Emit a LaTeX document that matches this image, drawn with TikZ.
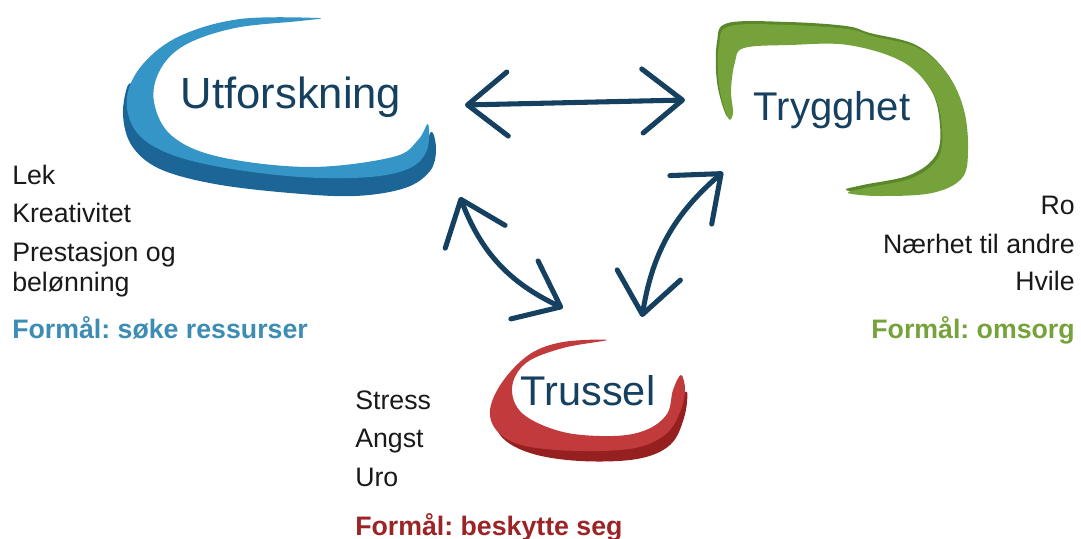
\documentclass[tikz,border=0pt]{standalone}
\usepackage{fontspec}
\setmainfont{Liberation Sans}
\usetikzlibrary{arrows.meta}
\definecolor{navy}{HTML}{15405F}
\definecolor{blueL}{HTML}{3595C6}
\definecolor{blueD}{HTML}{1B6597}
\definecolor{greenL}{HTML}{76A23B}
\definecolor{greenD}{HTML}{5A8729}
\definecolor{redL}{HTML}{C13A3C}
\definecolor{redD}{HTML}{962020}
\definecolor{blueT}{HTML}{3D8CB3}
\definecolor{greenT}{HTML}{76A23B}
\definecolor{redT}{HTML}{9C2426}
\frenchspacing

\begin{document}
\begin{tikzpicture}[x=0.025cm,y=-0.025cm,
  >={Straight Barb[length=1cm,width=1.6cm,round]},
  link/.style={<->,navy,line width=3.6pt,line cap=round},
  title/.style={navy,anchor=base,inner sep=0pt},
  item/.style={font=\fontsize{19}{22}\selectfont,text=black!90,inner sep=0pt},
  goal/.style={item,font=\fontsize{19}{22}\selectfont\bfseries}]
  \useasboundingbox (0,0) rectangle (1081,539);

  % blue blob
  \fill[blueD] plot[smooth cycle,tension=0.6] coordinates {(128,85) (123,115) (132,146) (160,169) (215,184) (290,193) (355,196) (405,188) (430,171) (436,150) (431,132) (418,158) (370,172) (300,174) (220,164) (165,148) (142,120) (136,90)};
  \fill[blueL] plot[smooth cycle,tension=0.6] coordinates {(318,18) (240,19) (180,36) (143,64) (127,97) (135,130) (165,152) (220,167) (300,177) (370,177) (410,168) (427,150) (428,124) (418,140) (393,157) (310,167) (220,157) (172,136) (154,102) (160,70) (185,45) (235,28) (300,21)};

  % green blob
  \fill[greenD,shift={(-2,-3)}] plot[smooth cycle,tension=0.6] coordinates {(728,118) (719,85) (719,45) (730,26) (790,25) (848,29) (872,36) (918,48) (948,75) (964,110) (968,150) (962,178) (932,193) (880,196) (848,193) (865,188) (912,178) (938,158) (942,128) (933,93) (903,62) (848,45) (790,45) (744,48) (735,62) (731,90) (733,113)};
  \fill[greenL] plot[smooth cycle,tension=0.6] coordinates {(728,118) (719,85) (719,45) (730,26) (790,25) (848,29) (872,36) (918,48) (948,75) (964,110) (968,150) (962,178) (932,193) (880,196) (848,193) (865,188) (912,178) (938,158) (942,128) (933,93) (903,62) (848,45) (790,45) (744,48) (735,62) (731,90) (733,113)};

  % red blob
  \fill[redD] plot[smooth cycle,tension=0.6] coordinates {(493,405) (500,435) (530,453) (580,461) (637,459) (670,445) (684,418) (687,392) (678,402) (666,428) (630,443) (570,443) (520,428) (500,405)};
  \fill[redL] plot[smooth cycle,tension=0.6] coordinates {(607,340) (563,342) (530,354) (503,381) (490,410) (498,432) (525,446) (580,451) (635,448) (666,434) (680,412) (685,390) (681,375) (673,390) (667,414) (646,430) (613,436) (563,432) (523,414) (512,388) (526,363) (563,348)};

  \node[title,font=\fontsize{31}{36}\selectfont] (utf) at (291,108) {Utforskning};
  \node[title,font=\fontsize{28.5}{34}\selectfont] (tryg) at (832,120) {Trygghet};
  \node[title,font=\fontsize{29.5}{34}\selectfont] (trus) at (588,405) {Trussel};

  % arrow ends
  \coordinate (utfE) at (465,105);
  \coordinate (trygW) at (685,100);
  \coordinate (utfS) at (460,197);
  \coordinate (trusNW) at (563,308);
  \coordinate (trusNE) at (642,317);
  \coordinate (trygSW) at (723,172);
  \draw[link] (utfE) -- (trygW);
  \draw[link] (utfS) to[bend right=22] (trusNW);
  \draw[link] (trusNE) to[bend left=20] (trygSW);

  % left texts
  \node[item,anchor=base west] (lek) at (12,184) {Lek};
  \node[item,anchor=base west] (krea) at (12,222) {Kreativitet};
  \node[item,anchor=base west] (pres) at (12,261) {Prestasjon og};
  \node[item,anchor=base west] (belo) at (12,291) {belønning};
  \node[goal,anchor=base west,text=blueT] (utfGoal) at (12,338) {Formål: søke ressurser};

  % right texts
  \node[item,anchor=base east] (ro) at (1075,214) {Ro};
  \node[item,anchor=base east] (naer) at (1075,253) {Nærhet til andre};
  \node[item,anchor=base east] (hvile) at (1075,290) {Hvile};
  \node[goal,anchor=base east,text=greenT] (trygGoal) at (1075,338) {Formål: omsorg};

  % bottom texts
  \node[item,anchor=base west] (stress) at (355,409) {Stress};
  \node[item,anchor=base west] (angst) at (355,447) {Angst};
  \node[item,anchor=base west] (uro) at (355,486) {Uro};
  \node[goal,anchor=base west,text=redT] (trusGoal) at (355,535) {Formål: beskytte seg};
\end{tikzpicture}
\end{document}
